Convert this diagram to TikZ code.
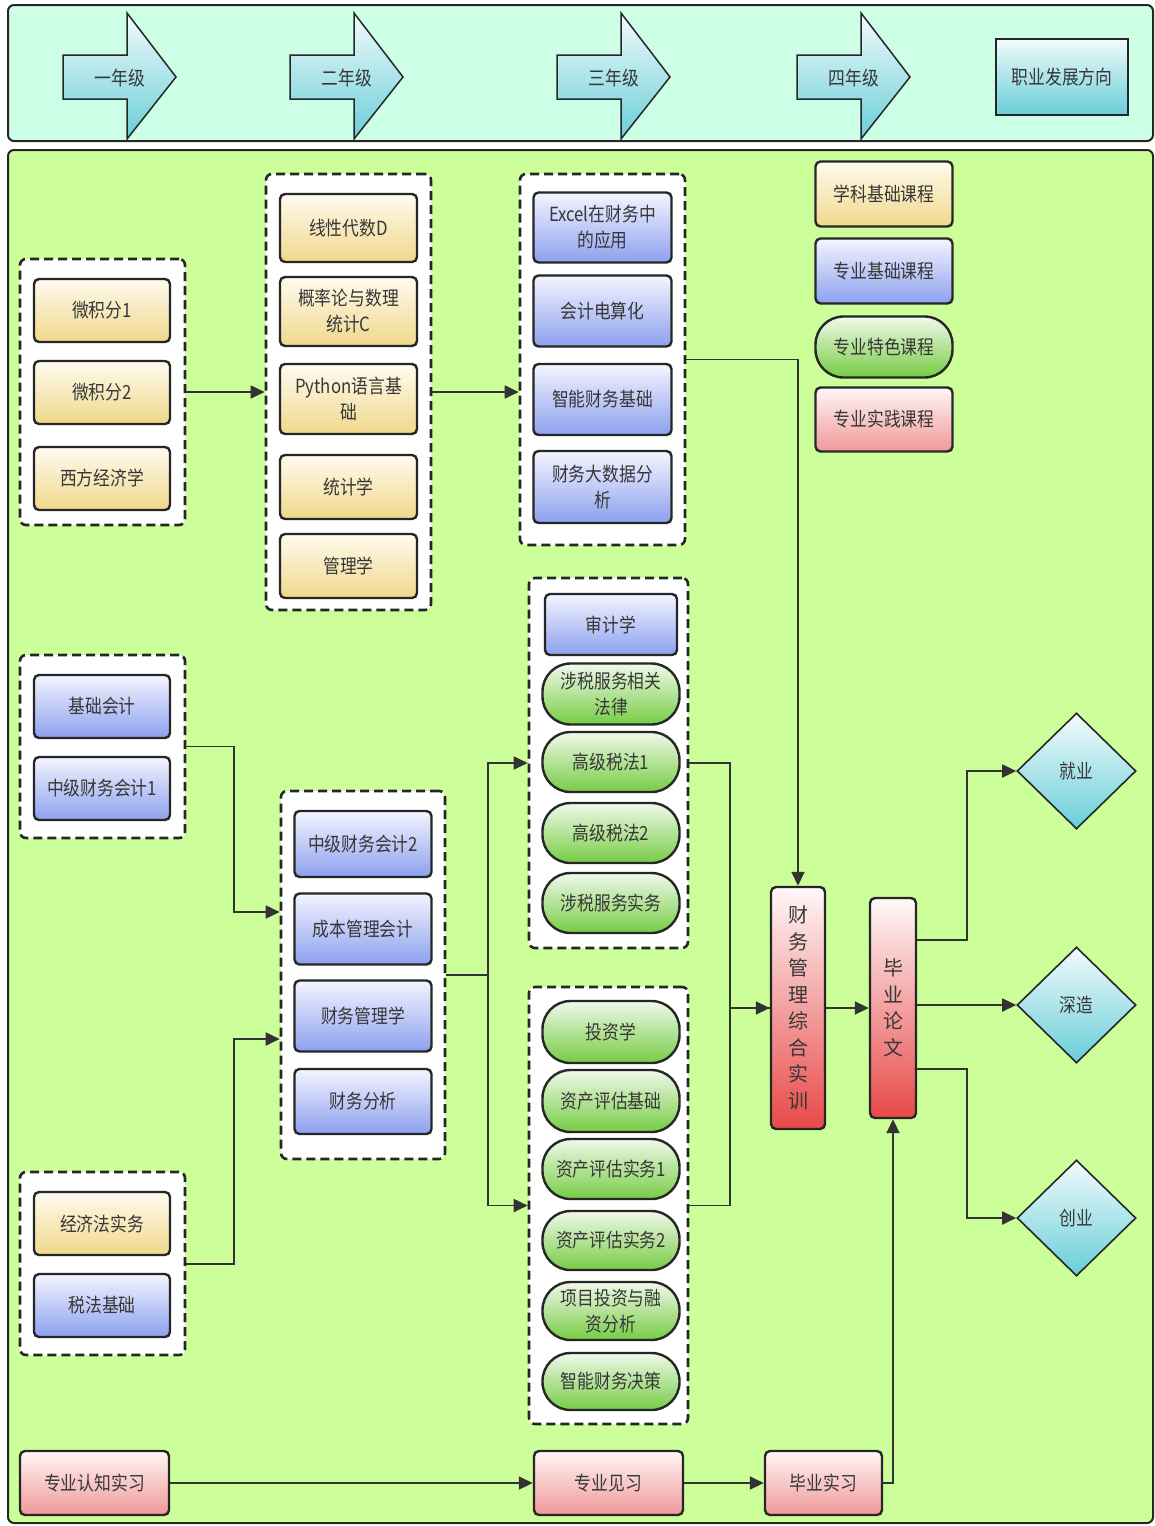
\documentclass[tikz,border=0pt]{standalone}
\usepackage{fontspec}
\setmainfont{Noto Sans CJK SC}[FakeStretch=0.86]
\newfontfamily\cjkv{Noto Sans CJK SC}
\usetikzlibrary{arrows.meta,shapes.geometric}
\definecolor{bannerbg}{RGB}{204,255,229}
\definecolor{panelbg}{RGB}{204,255,153}
\definecolor{bordc}{RGB}{38,38,38}
\definecolor{linec}{RGB}{51,51,51}
\definecolor{txtc}{RGB}{55,55,55}
\definecolor{ytop}{RGB}{255,251,240}
\definecolor{ybot}{RGB}{240,216,138}
\definecolor{btop}{RGB}{244,245,255}
\definecolor{bbot}{RGB}{140,160,238}
\definecolor{gtop}{RGB}{240,249,234}
\definecolor{gbot}{RGB}{118,204,68}
\definecolor{ptop}{RGB}{255,246,246}
\definecolor{pbot}{RGB}{240,152,152}
\definecolor{rtop}{RGB}{255,248,248}
\definecolor{rbot}{RGB}{232,72,72}
\definecolor{ctop}{RGB}{242,251,252}
\definecolor{cbot}{RGB}{104,206,216}
\begin{document}
\begin{tikzpicture}[x=1pt,y=-1pt,
  box/.style={draw=bordc, line width=2.4pt, rounded corners=5pt, inner sep=2pt,
    align=center, text=txtc, font=\fontsize{19.5}{26}\selectfont},
  ybox/.style={box, top color=ytop, bottom color=ybot},
  bbox/.style={box, top color=btop, bottom color=bbot},
  gbox/.style={box, rounded corners=28pt, top color=gtop, bottom color=gbot},
  pbox/.style={box, top color=ptop, bottom color=pbot},
  rbox/.style={box, top color=rtop, bottom color=rbot, font=\cjkv\fontsize{20}{26.5}\selectfont},
  grp/.style={draw=bordc, line width=2.6pt, dash pattern=on 9pt off 5pt, rounded corners=6pt, fill=white, inner sep=0pt},
  dia/.style={shape=diamond, draw=bordc, line width=1.6pt, top color=ctop, bottom color=cbot,
    minimum width=119pt, minimum height=116pt, inner sep=0pt, text=txtc, font=\fontsize{19.5}{26}\selectfont},
  yarrow/.style={draw=bordc, line width=1.5pt, top color=ctop, bottom color=cbot},
  ylab/.style={text=txtc, font=\fontsize{19.5}{26}\selectfont},
  conn/.style={draw=linec, line width=1.8pt},
  arr/.style={conn, -{Triangle[length=14pt,width=13pt]}}
]
\useasboundingbox (0,0) rectangle (1155,1526);
% backgrounds
\draw[draw=bordc, line width=2pt, fill=bannerbg, rounded corners=6pt] (8,5) rectangle (1153,141);
\draw[draw=bordc, line width=2pt, fill=panelbg, rounded corners=6pt] (8,150) rectangle (1153,1523);
% year arrows
\foreach \x/\nm/\t in {63/ya/一年级, 290/yb/二年级, 557/yc/三年级, 797/yd/四年级}{
  \path[yarrow] (\x,55) -- (\x+64,55) -- (\x+64,13) -- (\x+113,77) -- (\x+64,139) -- (\x+64,99) -- (\x,99) -- cycle;
  \node[ylab] (\nm) at (\x+57,78) {\t};
}
\node[draw=bordc, line width=2pt, top color=ctop, bottom color=cbot, minimum width=132pt, minimum height=76pt,
  inner sep=0pt, text=txtc, font=\fontsize{19.5}{26}\selectfont] (zy) at (1062,77) {职业发展方向};

% groups
\node[grp, minimum width=165pt, minimum height=266pt] (gA) at (102.5,392) {};
\node[grp, minimum width=165pt, minimum height=436pt] (gB) at (348.5,392) {};
\node[grp, minimum width=165pt, minimum height=371pt] (gC) at (602.5,359.5) {};
\node[grp, minimum width=165pt, minimum height=183pt] (gD) at (102.5,746.5) {};
\node[grp, minimum width=164pt, minimum height=368pt] (gE) at (363,975) {};
\node[grp, minimum width=165pt, minimum height=183pt] (gF) at (102.5,1263.5) {};
\node[grp, minimum width=159pt, minimum height=370pt] (gG) at (608.5,763) {};
\node[grp, minimum width=159pt, minimum height=437pt] (gH) at (608.5,1205.5) {};

% group A
\node[ybox, minimum width=136pt, minimum height=63pt] (w1) at (102,310.5) {微积分1};
\node[ybox, minimum width=136pt, minimum height=63pt] (w2) at (102,392.5) {微积分2};
\node[ybox, minimum width=136pt, minimum height=63pt] (xf) at (102,478.5) {西方经济学};
% group B
\node[ybox, minimum width=137pt, minimum height=68pt] (xx) at (348.5,228) {线性代数D};
\node[ybox, minimum width=137pt, minimum height=69pt] (gl) at (348.5,311.5) {概率论与数理\\统计C};
\node[ybox, minimum width=137pt, minimum height=70pt] (py) at (348.5,399) {Python语言基\\础};
\node[ybox, minimum width=137pt, minimum height=64pt] (tj) at (348.5,487) {统计学};
\node[ybox, minimum width=137pt, minimum height=64pt] (glx) at (348.5,566) {管理学};
% group C
\node[bbox, minimum width=138pt, minimum height=70pt] (ex) at (602.5,227.5) {Excel在财务中\\的应用};
\node[bbox, minimum width=138pt, minimum height=71pt] (kj) at (602.5,311) {会计电算化};
\node[bbox, minimum width=138pt, minimum height=71pt] (zn) at (602.5,399.5) {智能财务基础};
\node[bbox, minimum width=138pt, minimum height=72pt] (dsj) at (602.5,487) {财务大数据分\\析};
% legend
\node[ybox, minimum width=137pt, minimum height=65pt] (l1) at (884,194) {学科基础课程};
\node[bbox, minimum width=137pt, minimum height=65pt] (l2) at (884,271) {专业基础课程};
\node[gbox, minimum width=137pt, minimum height=61pt] (l3) at (884,347) {专业特色课程};
\node[pbox, minimum width=137pt, minimum height=64pt] (l4) at (884,419.5) {专业实践课程};
% group D
\node[bbox, minimum width=136pt, minimum height=63pt] (jk) at (102,706.5) {基础会计};
\node[bbox, minimum width=136pt, minimum height=63pt] (zj1) at (102,788.5) {中级财务会计1};
% group E
\node[bbox, minimum width=137pt, minimum height=66pt] (zj2) at (363,844) {中级财务会计2};
\node[bbox, minimum width=137pt, minimum height=71pt] (cb) at (363,929) {成本管理会计};
\node[bbox, minimum width=137pt, minimum height=71pt] (cw) at (363,1016) {财务管理学};
\node[bbox, minimum width=137pt, minimum height=65pt] (fx) at (363,1101.5) {财务分析};
% group F
\node[ybox, minimum width=136pt, minimum height=63pt] (jj) at (102,1223.5) {经济法实务};
\node[bbox, minimum width=136pt, minimum height=63pt] (sf) at (102,1305.5) {税法基础};
% group G
\node[bbox, minimum width=132pt, minimum height=61pt] (sj) at (611,624.5) {审计学};
\node[gbox, minimum width=137pt, minimum height=61pt] (sw) at (611,694) {涉税服务相关\\法律};
\node[gbox, minimum width=137pt, minimum height=60pt] (g1) at (611,762) {高级税法1};
\node[gbox, minimum width=137pt, minimum height=60pt] (g2) at (611,833) {高级税法2};
\node[gbox, minimum width=137pt, minimum height=60pt] (ss) at (611,903) {涉税服务实务};
% group H
\node[gbox, minimum width=137pt, minimum height=62pt] (tz) at (611,1032) {投资学};
\node[gbox, minimum width=137pt, minimum height=62pt] (pg) at (611,1101) {资产评估基础};
\node[gbox, minimum width=137pt, minimum height=60pt] (s1) at (611,1169) {资产评估实务1};
\node[gbox, minimum width=137pt, minimum height=59pt] (s2) at (611,1240.5) {资产评估实务2};
\node[gbox, minimum width=137pt, minimum height=58pt] (xm) at (611,1311) {项目投资与融\\资分析};
\node[gbox, minimum width=137pt, minimum height=57pt] (jc) at (611,1381.5) {智能财务决策};
% red vertical
\node[rbox, minimum width=54pt, minimum height=242pt] (fin) at (798,1008) {财\\务\\管\\理\\综\\合\\实\\训};
\node[rbox, minimum width=46pt, minimum height=220pt] (thesis) at (893,1008) {毕\\业\\论\\文};
% diamonds
\node[dia] (jy) at (1076.5,771) {就业};
\node[dia] (sz) at (1076.5,1005) {深造};
\node[dia] (cy) at (1076.5,1218) {创业};
% practice
\node[pbox, minimum width=149pt, minimum height=64pt] (rz) at (94.5,1483) {专业认知实习};
\node[pbox, minimum width=149pt, minimum height=64pt] (jx) at (608.5,1483) {专业见习};
\node[pbox, minimum width=117pt, minimum height=64pt] (bs) at (823.5,1483) {毕业实习};

% connectors
\draw[arr] (gA.east) -- (gB.west);
\draw[arr] (gB.east) -- (gC.west |- gB.east);
\draw[arr] (gC.east) -| (fin.north);
\draw[arr] (gD.east) -- ++(48,0) |- ([yshift=63pt]gE.west);
\draw[arr] ([yshift=-0.5pt]gF.east) -- ++(48,0) |- ([yshift=-64pt]gE.west);
\draw[arr] (gE.east) -- ++(42,0) |- (gG.west);
\draw[arr] (gE.east) -- ++(42,0) |- (gH.west);
\draw[arr] (gG.east) -- ++(41,0) |- (fin.west);
\draw[conn] (gH.east) -- ++(41,0) |- (fin.west);
\draw[arr] (fin.east) -- (thesis.west);
\draw[arr] ([yshift=68pt]thesis.east) -- ++(50,0) |- (jy.west);
\draw[arr] (thesis.east |- sz.west) -- (sz.west);
\draw[arr] ([yshift=-61pt]thesis.east) -- ++(50,0) |- (cy.west);
\draw[arr] (rz.east) -- (jx.west);
\draw[arr] (jx.east) -- (bs.west);
\draw[arr] (bs.east) -| (thesis.south);
\end{tikzpicture}
\end{document}
